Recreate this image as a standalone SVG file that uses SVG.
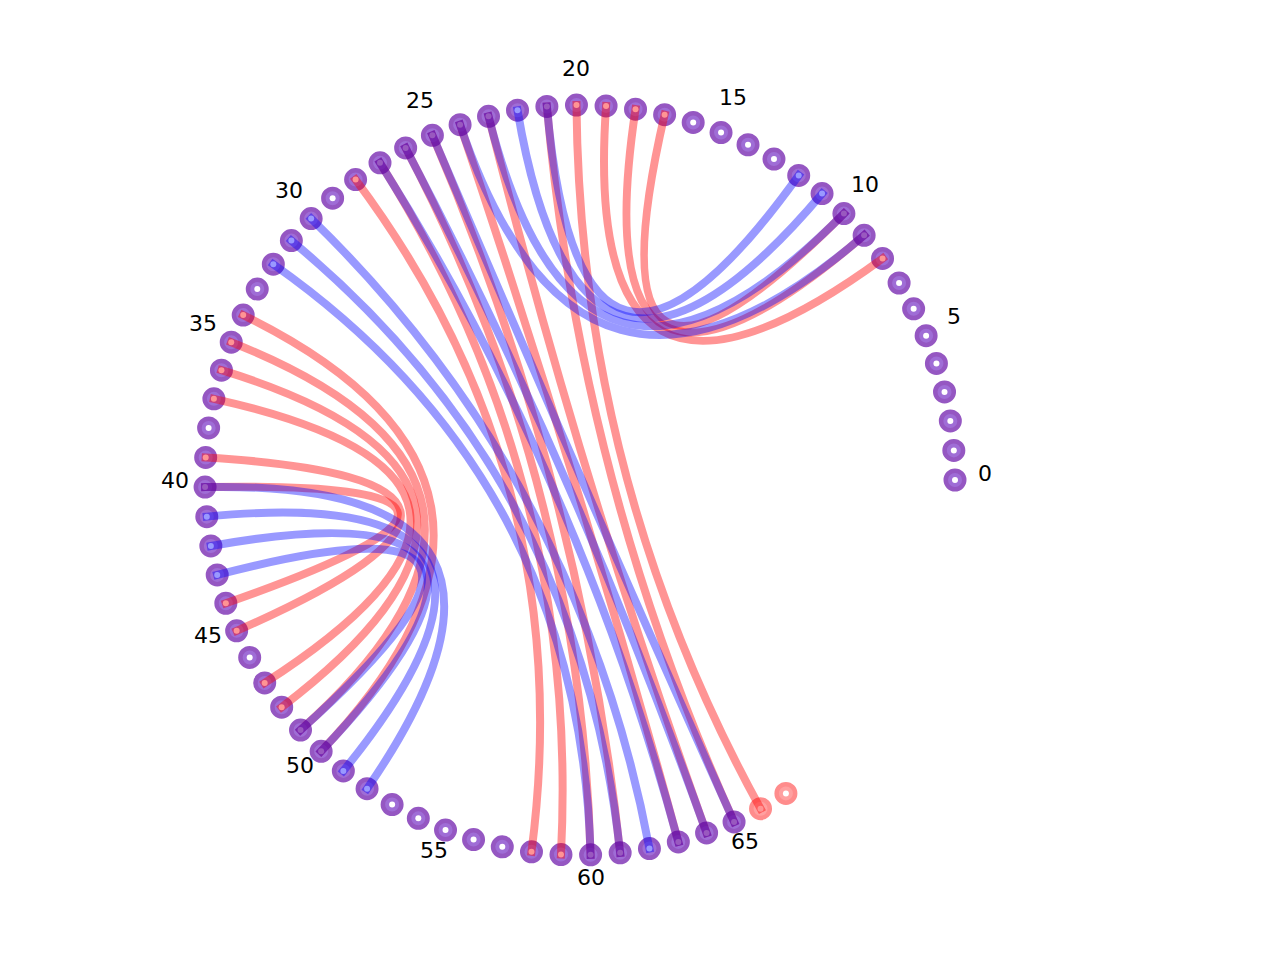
<svg xmlns="http://www.w3.org/2000/svg" xmlns:xlink="http://www.w3.org/1999/xlink" width="1280" height="960" viewBox="0 0 1280 960">
<style>
.lbl{font-family:"DejaVu Sans","Liberation Sans",sans-serif;font-size:22px;fill:#000;text-anchor:middle}
.red{fill:none;stroke:#ff0000;stroke-opacity:0.42;stroke-width:8;stroke-linecap:square}
.blue{fill:none;stroke:#0000ff;stroke-opacity:0.4;stroke-width:8;stroke-linecap:square}
</style>
<defs>
<g id="np"><circle r="9.25" fill="#9f6dd6" stroke="#9557c2" stroke-width="4.5"/><circle r="3" fill="#fff"/></g>
<g id="nr"><circle r="9.25" fill="#ffa0a0" stroke="#ff8c8c" stroke-width="4.5"/><circle r="3" fill="#fff"/></g>
</defs>
<rect width="1280" height="960" fill="#fff"/>
<g id="nodes">
<g id="node-0"><use href="#np" x="955" y="480"/></g>
<g id="node-1"><use href="#np" x="953.83" y="450.40"/></g>
<g id="node-2"><use href="#np" x="950.33" y="420.99"/></g>
<g id="node-3"><use href="#np" x="944.52" y="391.95"/></g>
<g id="node-4"><use href="#np" x="936.43" y="363.45"/></g>
<g id="node-5"><use href="#np" x="926.12" y="335.67"/></g>
<g id="node-6"><use href="#np" x="913.64" y="308.80"/></g>
<g id="node-7"><use href="#np" x="899.09" y="283.00"/></g>
<g id="node-8"><use href="#np" x="882.55" y="258.44"/></g>
<g id="node-9"><use href="#np" x="864.13" y="235.26"/></g>
<g id="node-10"><use href="#np" x="843.91" y="213.59"/></g>
<g id="node-11"><use href="#np" x="822.07" y="193.59"/></g>
<g id="node-12"><use href="#np" x="798.71" y="175.39"/></g>
<g id="node-13"><use href="#np" x="773.97" y="159.06"/></g>
<g id="node-14"><use href="#np" x="748.03" y="144.75"/></g>
<g id="node-15"><use href="#np" x="721.05" y="132.54"/></g>
<g id="node-16"><use href="#np" x="693.19" y="122.49"/></g>
<g id="node-17"><use href="#np" x="664.62" y="114.67"/></g>
<g id="node-18"><use href="#np" x="635.52" y="109.13"/></g>
<g id="node-19"><use href="#np" x="606.07" y="105.91"/></g>
<g id="node-20"><use href="#np" x="576.47" y="105.02"/></g>
<g id="node-21"><use href="#np" x="546.88" y="106.47"/></g>
<g id="node-22"><use href="#np" x="517.51" y="110.24"/></g>
<g id="node-23"><use href="#np" x="488.52" y="116.33"/></g>
<g id="node-24"><use href="#np" x="460.09" y="124.69"/></g>
<g id="node-25"><use href="#np" x="432.40" y="135.27"/></g>
<g id="node-26"><use href="#np" x="405.65" y="147.99"/></g>
<g id="node-27"><use href="#np" x="380.00" y="162.79"/></g>
<g id="node-28"><use href="#np" x="355.60" y="179.55"/></g>
<g id="node-29"><use href="#np" x="332.61" y="198.18"/></g>
<g id="node-30"><use href="#np" x="311.15" y="218.58"/></g>
<g id="node-31"><use href="#np" x="291.36" y="240.59"/></g>
<g id="node-32"><use href="#np" x="273.32" y="264.20"/></g>
<g id="node-33"><use href="#np" x="257.25" y="289.06"/></g>
<g id="node-34"><use href="#np" x="243.20" y="315.10"/></g>
<g id="node-35"><use href="#np" x="231.23" y="342.24"/></g>
<g id="node-36"><use href="#np" x="221.44" y="370.19"/></g>
<g id="node-37"><use href="#np" x="213.89" y="398.84"/></g>
<g id="node-38"><use href="#np" x="208.62" y="427.98"/></g>
<g id="node-39"><use href="#np" x="205.68" y="457.45"/></g>
<g id="node-40"><use href="#np" x="205.07" y="487.07"/></g>
<g id="node-41"><use href="#np" x="206.79" y="516.64"/></g>
<g id="node-42"><use href="#np" x="210.85" y="545.99"/></g>
<g id="node-43"><use href="#np" x="217.21" y="574.91"/></g>
<g id="node-44"><use href="#np" x="225.83" y="603.25"/></g>
<g id="node-45"><use href="#np" x="236.65" y="630.81"/></g>
<g id="node-46"><use href="#np" x="249.69" y="657.48"/></g>
<g id="node-47"><use href="#np" x="264.69" y="682.98"/></g>
<g id="node-48"><use href="#np" x="281.68" y="707.23"/></g>
<g id="node-49"><use href="#np" x="300.52" y="730.04"/></g>
<g id="node-50"><use href="#np" x="321.14" y="751.32"/></g>
<g id="node-51"><use href="#np" x="343.34" y="770.89"/></g>
<g id="node-52"><use href="#np" x="367.07" y="788.68"/></g>
<g id="node-53"><use href="#np" x="392.11" y="804.53"/></g>
<g id="node-54"><use href="#np" x="418.32" y="818.36"/></g>
<g id="node-55"><use href="#np" x="445.53" y="830.06"/></g>
<g id="node-56"><use href="#np" x="473.56" y="839.58"/></g>
<g id="node-57"><use href="#np" x="502.29" y="846.86"/></g>
<g id="node-58"><use href="#np" x="531.48" y="851.85"/></g>
<g id="node-59"><use href="#np" x="560.98" y="854.52"/></g>
<g id="node-60"><use href="#np" x="590.60" y="854.85"/></g>
<g id="node-61"><use href="#np" x="620.16" y="852.84"/></g>
<g id="node-62"><use href="#np" x="649.45" y="848.51"/></g>
<g id="node-63"><use href="#np" x="678.33" y="841.88"/></g>
<g id="node-64"><use href="#np" x="706.59" y="832.98"/></g>
<g id="node-65"><use href="#np" x="734.06" y="821.90"/></g>
<g id="node-66"><use href="#nr" x="760.54" y="808.68"/></g>
<g id="node-67"><use href="#nr" x="785.91" y="793.41"/></g>
</g>
<g id="connectors">
<g id="red-edges">
<path class="red" d="M882.55,258.44Q580,480 606.07,105.91"/>
<path class="red" d="M864.13,235.26Q580,480 635.52,109.13"/>
<path class="red" d="M843.91,213.59Q580,480 664.62,114.67"/>
<path class="red" d="M576.47,105.02Q580,480 760.54,808.68"/>
<path class="red" d="M546.88,106.47Q580,480 734.06,821.90"/>
<path class="red" d="M488.52,116.33Q580,480 706.59,832.98"/>
<path class="red" d="M460.09,124.69Q580,480 678.33,841.88"/>
<path class="red" d="M432.40,135.27Q580,480 620.16,852.84"/>
<path class="red" d="M405.65,147.99Q580,480 590.60,854.85"/>
<path class="red" d="M380.00,162.79Q580,480 560.98,854.52"/>
<path class="red" d="M355.60,179.55Q580,480 531.48,851.85"/>
<path class="red" d="M243.20,315.10Q580,480 321.14,751.32"/>
<path class="red" d="M231.23,342.24Q580,480 300.52,730.04"/>
<path class="red" d="M221.44,370.19Q580,480 281.68,707.23"/>
<path class="red" d="M213.89,398.84Q580,480 264.69,682.98"/>
<path class="red" d="M205.68,457.45Q580,480 236.65,630.81"/>
<path class="red" d="M205.07,487.07Q580,480 225.83,603.25"/>
</g>
<g id="blue-edges">
<path class="blue" d="M864.13,235.26Q580,480 460.09,124.69"/>
<path class="blue" d="M843.91,213.59Q580,480 488.52,116.33"/>
<path class="blue" d="M822.07,193.59Q580,480 517.51,110.24"/>
<path class="blue" d="M798.71,175.39Q580,480 546.88,106.47"/>
<path class="blue" d="M432.40,135.27Q580,480 734.06,821.90"/>
<path class="blue" d="M405.65,147.99Q580,480 706.59,832.98"/>
<path class="blue" d="M380.00,162.79Q580,480 678.33,841.88"/>
<path class="blue" d="M311.15,218.58Q580,480 649.45,848.51"/>
<path class="blue" d="M291.36,240.59Q580,480 620.16,852.84"/>
<path class="blue" d="M273.32,264.20Q580,480 590.60,854.85"/>
<path class="blue" d="M205.07,487.07Q580,480 367.07,788.68"/>
<path class="blue" d="M206.79,516.64Q580,480 343.34,770.89"/>
<path class="blue" d="M210.85,545.99Q580,480 321.14,751.32"/>
<path class="blue" d="M217.21,574.91Q580,480 300.52,730.04"/>
</g>
</g>
<g id="labels">
<text class="lbl" x="985" y="480.5">0</text>
<text class="lbl" x="954" y="324">5</text>
<text class="lbl" x="865" y="192">10</text>
<text class="lbl" x="733" y="105">15</text>
<text class="lbl" x="576" y="76">20</text>
<text class="lbl" x="420" y="108">25</text>
<text class="lbl" x="289" y="198">30</text>
<text class="lbl" x="203" y="331">35</text>
<text class="lbl" x="175" y="488">40</text>
<text class="lbl" x="208" y="643">45</text>
<text class="lbl" x="300" y="773">50</text>
<text class="lbl" x="434" y="858">55</text>
<text class="lbl" x="591" y="885">60</text>
<text class="lbl" x="745" y="849">65</text>
</g>
</svg>
